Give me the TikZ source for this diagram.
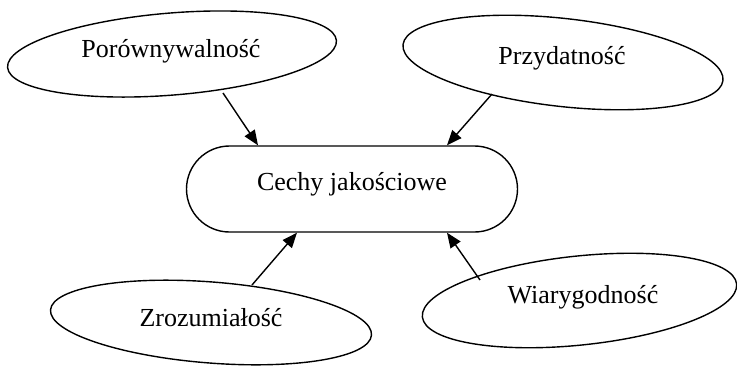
\documentclass[tikz,border=0pt]{standalone}
\usepackage{fontspec}
\setmainfont{Liberation Serif}
\newfontfamily\timesfont{Liberation Serif}
\usetikzlibrary{arrows.meta,shapes.geometric}
\begin{document}
\begin{tikzpicture}[x=1pt,y=1pt,
  oval/.style={draw=black,line width=1.4pt,ellipse,inner sep=0pt},
  lbl/.style={anchor=base,inner sep=0pt,font=\timesfont\fontsize{26}{30}\selectfont},
  pill/.style={draw=black,line width=1.4pt,rectangle,rounded corners=43pt,minimum width=331pt,minimum height=86pt,inner sep=0pt},
  arr/.style={line width=1.4pt,-{Triangle[length=15pt,width=12pt]}}]
\useasboundingbox (0,0) rectangle (737,-365);
\node[pill] (c) at (352,-189) {};
\node[lbl] (ct) at (352,-190) {Cechy jakościowe};
\node[oval,minimum width=330pt,minimum height=82pt,rotate=4.7] (p) at (172,-54) {};
\node[lbl] (pt) at (171,-57) {Porównywalność};
\node[oval,minimum width=322pt,minimum height=88pt,rotate=-6.4] (q) at (563,-62.5) {};
\node[lbl] (qt) at (562,-64) {Przydatność};
\node[oval,minimum width=322pt,minimum height=81pt,rotate=-4.5] (z) at (211,-322.5) {};
\node[lbl] (zt) at (211,-326) {Zrozumiałość};
\node[oval,minimum width=316pt,minimum height=89pt,rotate=6] (w) at (579.5,-300.5) {};
\node[lbl] (wt) at (583,-303) {Wiarygodność};
\draw[arr] ([shift={(51pt,-39pt)}]p.center) -- ([xshift=-94pt]c.north);
\draw[arr] ([shift={(-71pt,-31.5pt)}]q.center) -- ([xshift=95pt]c.north);
\draw[arr] ([shift={(41pt,37.5pt)}]z.center) -- ([xshift=-55pt]c.south);
\draw[arr] ([shift={(-99.5pt,20.5pt)}]w.center) -- ([xshift=95pt]c.south);
\end{tikzpicture}
\end{document}
